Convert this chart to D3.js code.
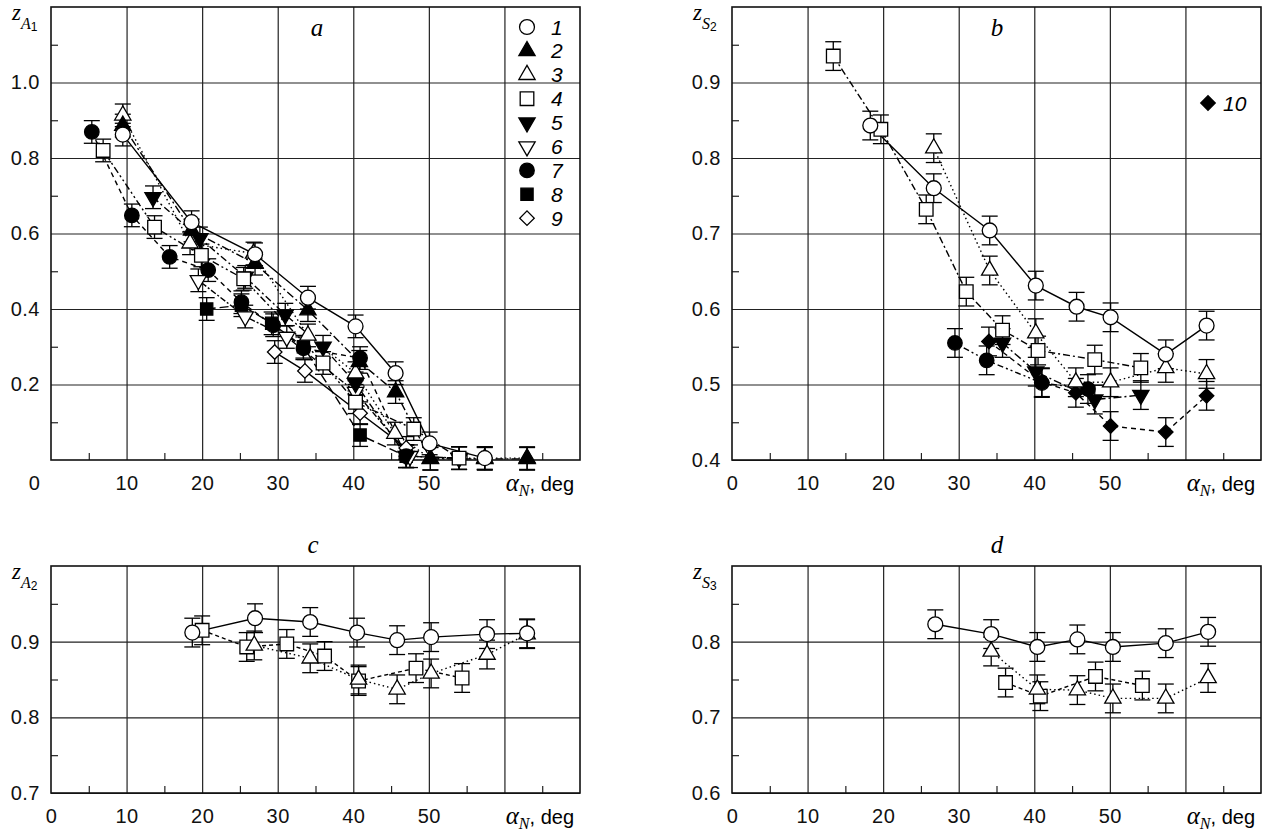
<!DOCTYPE html>
<html>
<head>
<meta charset="utf-8">
<script src="https://cdn.jsdelivr.net/npm/d3@7"></script>
<style>
body { margin: 0; background: #fff; }
.ticklab text { font-family: "Liberation Sans", Arial, sans-serif; font-size: 20px; letter-spacing: 0.5px; fill: #111; }
</style>
</head>
<body>
<svg id="fig" width="1270" height="839"></svg>
<script>
// x axis (same for all panels)
var xTicks = [0, 10, 20, 30, 40, 50];
var xGrid = [10, 20, 30, 40, 50, 60];
var xMinor = [5, 15, 25, 35, 45, 55, 65];

// panel a : z_A1
var aTicks = [0.2, 0.4, 0.6, 0.8, 1.0];
var aMinor = [0.1, 0.3, 0.5, 0.7, 0.9, 1.1];
var aErr = 0.03;
var a1 = [[9.5,0.862],[18.6,0.630],[27,0.545],[34,0.43],[40.3,0.354],[45.6,0.23],[50.1,0.044],[57.4,0.005]];
var a2 = [[9.5,0.886],[18.6,0.608],[27,0.52],[34,0.397],[40.8,0.26],[45.6,0.18],[50.2,0.003],[57.4,0.003],[63,0.003]];
var a3 = [[9.5,0.913],[18.4,0.574],[26.8,0.547],[34,0.33],[40.3,0.23],[45.5,0.07],[50.2,0.004],[57.4,0.005],[63,0.005]];
var a4 = [[6.9,0.82],[13.7,0.617],[19.9,0.542],[25.5,0.48],[36,0.257],[40.3,0.153],[48,0.082],[54,0.005]];
var a5 = [[13.5,0.696],[19.7,0.587],[25.7,0.485],[31,0.385],[36,0.30],[40.3,0.203],[47,0.01],[54,0.005]];
var a6 = [[19.5,0.476],[25.7,0.38],[31.2,0.326],[40.3,0.18],[47.5,0.01],[54,0.005]];
var a7 = [[5.4,0.869],[10.7,0.648],[15.7,0.538],[20.8,0.503],[25.2,0.418],[29.4,0.357],[33.4,0.296],[40.9,0.27],[47,0.01]];
var a8 = [[20.6,0.40],[25.2,0.41],[29.2,0.362],[33.4,0.30],[40.9,0.066],[47,0.01]];
var a9 = [[29.6,0.286],[33.6,0.236],[40.9,0.124],[47,0.032]];

// panel b : z_S2
var bTicks = [0.4, 0.5, 0.6, 0.7, 0.8, 0.9];
var bMinor = [0.45, 0.55, 0.65, 0.75, 0.85, 0.95];
var bErr = 0.019;
var b1 = [[18.3,0.843],[26.7,0.76],[34.1,0.704],[40.2,0.631],[45.6,0.603],[50.1,0.589],[57.4,0.54],[62.8,0.578]];
var b3 = [[26.7,0.813],[34.1,0.651],[40.2,0.568],[45.5,0.503],[50.1,0.503],[57.4,0.522],[62.8,0.514]];
var b4 = [[13.4,0.935],[19.7,0.838],[25.7,0.732],[31,0.623],[35.8,0.572],[40.5,0.545],[48,0.533],[54.1,0.522]];
var b5 = [[35.8,0.555],[40.2,0.517],[48,0.48],[54.1,0.486]];
var b7 = [[29.5,0.555],[33.7,0.532],[41,0.502],[47.1,0.494]];
var b10 = [[34,0.557],[41,0.503],[45.5,0.489],[50.1,0.445],[57.4,0.437],[62.8,0.485]];

// panel c : z_A2
var cTicks = [0.7, 0.8, 0.9];
var cMinor = [0.75, 0.85, 0.95];
var cErr = 0.019;
var c1 = [[18.7,0.912],[27,0.931],[34.3,0.926],[40.5,0.912],[45.8,0.902],[50.3,0.906],[57.7,0.91],[63,0.911]];
var c3 = [[26.9,0.895],[34.3,0.878],[40.7,0.85],[45.8,0.837],[50.3,0.858],[57.7,0.883],[63,0.91]];
var c4 = [[20,0.915],[25.9,0.893],[31.2,0.897],[36.2,0.881],[40.7,0.848],[48.3,0.865],[54.4,0.852]];

// panel d : z_S3
var dTicks = [0.6, 0.7, 0.8];
var dMinor = [0.65, 0.75, 0.85];
var dErr = 0.019;
var d1 = [[26.9,0.823],[34.3,0.81],[40.4,0.793],[45.7,0.803],[50.4,0.793],[57.4,0.798],[63,0.813]];
var d3s = [[34.3,0.787],[40.4,0.737],[45.7,0.736],[50.4,0.725],[57.4,0.725],[63,0.752]];
var d4 = [[36.2,0.746],[40.8,0.728],[48.1,0.754],[54.3,0.742]];

var legendA = ["1","2","3","4","5","6","7","8","9"];

// marker per series number
var markOf = {1:"circle",2:"triUpF",3:"triUp",4:"square",5:"triDownF",6:"triDown",7:"circleF",8:"squareF",9:"diamond",10:"diamondF"};

var svg = d3.select("#fig");
var W = 529;

function marker(sel, kind) {
  var type = d3.symbolCircle, size = 175, rot = 0;
  if (kind.indexOf("tri") == 0) { type = d3.symbolTriangle; size = 115; }
  if (kind.indexOf("triDown") == 0) rot = 180;
  if (kind.indexOf("square") == 0) { type = d3.symbolSquare; size = kind == "squareF" ? 150 : 185; }
  if (kind.indexOf("diamond") == 0) { type = d3.symbolSquare; size = 105; rot = 45; }
  if (kind == "circleF") size = 165;
  var filled = kind.charAt(kind.length - 1) == "F";
  sel.append("path")
    .attr("d", d3.symbol().type(type).size(size))
    .attr("transform", "rotate(" + rot + ")")
    .attr("fill", filled ? "#000" : "#fff")
    .attr("stroke", "#000")
    .attr("stroke-width", 1.3);
}

function panel(p) {
  var x = d3.scaleLinear().domain([0, 70]).range([p.left, p.left + W]);
  var y = d3.scaleLinear().domain(p.yDomain).range([p.bottom, p.top]);
  var H = p.bottom - p.top;
  var g = svg.append("g");

  // grid
  g.append("g").attr("transform", "translate(0," + p.bottom + ")")
    .call(d3.axisBottom(x).tickValues(xGrid).tickSize(-H).tickFormat(""))
    .call(function(s) { s.select(".domain").remove(); s.selectAll("line").attr("stroke", "#222").attr("stroke-width", 1.2); });
  g.append("g").attr("transform", "translate(" + p.left + ",0)")
    .call(d3.axisLeft(y).tickValues(p.yTicks).tickSize(-W).tickFormat(""))
    .call(function(s) { s.select(".domain").remove(); s.selectAll("line").attr("stroke", "#222").attr("stroke-width", 1.2); });
  // minor ticks
  g.append("g").attr("transform", "translate(0," + p.bottom + ")")
    .call(d3.axisBottom(x).tickValues(xMinor).tickSize(-7).tickFormat(""))
    .call(function(s) { s.select(".domain").remove(); s.selectAll("line").attr("stroke", "#222").attr("stroke-width", 1.2); });
  g.append("g").attr("transform", "translate(" + p.left + ",0)")
    .call(d3.axisLeft(y).tickValues(p.yMinor).tickSize(-7).tickFormat(""))
    .call(function(s) { s.select(".domain").remove(); s.selectAll("line").attr("stroke", "#222").attr("stroke-width", 1.2); });

  g.append("rect").attr("x", p.left).attr("y", p.top).attr("width", W).attr("height", H)
    .attr("fill", "none").attr("stroke", "#111").attr("stroke-width", 1.6);

  // tick labels
  var xl = g.append("g").attr("class", "ticklab").attr("transform", "translate(0," + p.bottom + ")")
    .call(d3.axisBottom(x).tickValues(xTicks).tickSize(0).tickPadding(16).tickFormat(d3.format("d")));
  xl.select(".domain").remove();
  xl.selectAll(".tick").filter(function(d) { return d == 0; }).select("text").attr("dx", p.zeroShift || 0);
  var yl = g.append("g").attr("class", "ticklab").attr("transform", "translate(" + p.left + ",0)")
    .call(d3.axisLeft(y).tickValues(p.yTicks).tickSize(0).tickPadding(11).tickFormat(d3.format(".1f")));
  yl.select(".domain").remove();

  // x axis title
  var xt = g.append("text").attr("x", p.left + W - 6).attr("y", p.bottom + 31).attr("text-anchor", "end");
  xt.append("tspan").attr("font-family", "Liberation Serif, serif").attr("font-style", "italic").attr("font-size", 25).text("α");
  xt.append("tspan").attr("font-family", "Liberation Serif, serif").attr("font-style", "italic").attr("font-size", 16).attr("dy", 5).text("N");
  xt.append("tspan").attr("font-family", "Liberation Sans, Arial, sans-serif").attr("font-size", 20).attr("dy", -5).text(", deg");

  // y axis title
  var yt = g.append("text").attr("x", p.left - 39).attr("y", p.top + 13);
  yt.append("tspan").attr("font-family", "Liberation Serif, serif").attr("font-style", "italic").attr("font-size", 23).text("z");
  yt.append("tspan").attr("font-family", "Liberation Serif, serif").attr("font-style", "italic").attr("font-size", 16).attr("dy", 9).text(p.sub);
  yt.append("tspan").attr("font-family", "Liberation Sans, Arial, sans-serif").attr("font-size", 12).attr("dy", 2).text(p.subNum);

  // panel letter
  g.append("text").attr("x", p.letterX).attr("y", p.letterY).attr("text-anchor", "middle")
    .attr("font-family", "Liberation Serif, serif").attr("font-style", "italic").attr("font-size", 25)
    .text(p.letter);

  var line = d3.line().x(function(d) { return x(d[0]); }).y(function(d) { return y(d[1]); });
  var plot = g.append("g");
  p.series.forEach(function(s) {
    plot.append("path").datum(s.data).attr("d", line)
      .attr("fill", "none").attr("stroke", "#000").attr("stroke-width", 1.4)
      .attr("stroke-dasharray", s.dash);
  });
  p.series.forEach(function(s) {
    var eb = plot.append("g").selectAll("g").data(s.data).enter().append("g");
    eb.append("line").attr("x1", function(d) { return x(d[0]); }).attr("x2", function(d) { return x(d[0]); })
      .attr("y1", function(d) { return y(d[1] - p.err); }).attr("y2", function(d) { return y(d[1] + p.err); });
    eb.append("line").attr("x1", function(d) { return x(d[0]) - 8; }).attr("x2", function(d) { return x(d[0]) + 8; })
      .attr("y1", function(d) { return y(d[1] + p.err); }).attr("y2", function(d) { return y(d[1] + p.err); });
    eb.append("line").attr("x1", function(d) { return x(d[0]) - 8; }).attr("x2", function(d) { return x(d[0]) + 8; })
      .attr("y1", function(d) { return y(d[1] - p.err); }).attr("y2", function(d) { return y(d[1] - p.err); });
    eb.selectAll("line").attr("stroke", "#000").attr("stroke-width", 1.3);
  });
  p.series.forEach(function(s) {
    plot.append("g").selectAll("g").data(s.data).enter().append("g")
      .attr("transform", function(d) { return "translate(" + x(d[0]) + "," + y(d[1]) + ")"; })
      .each(function() { marker(d3.select(this), markOf[s.id]); });
  });
  return g;
}

var ga = panel({
  left: 51, top: 7, bottom: 460, yDomain: [0, 1.2], yTicks: aTicks, yMinor: aMinor, err: aErr,
  sub: "A", subNum: "1", letter: "a", letterX: 317, letterY: 36, zeroShift: -17,
  series: [
    {id: 9, data: a9, dash: null},
    {id: 8, data: a8, dash: "9,4"},
    {id: 7, data: a7, dash: "5,4"},
    {id: 6, data: a6, dash: "2,2,6,2"},
    {id: 5, data: a5, dash: "7,3,2,3"},
    {id: 4, data: a4, dash: "7,3,2,3,2,3"},
    {id: 3, data: a3, dash: "1.5,3"},
    {id: 2, data: a2, dash: "8,3,2,3"},
    {id: 1, data: a1, dash: null}
  ]
});

// legend a
var leg = ga.append("g").selectAll("g").data(legendA).enter().append("g")
  .attr("transform", function(d, i) { return "translate(527," + (27 + i * 23.9) + ")"; });
leg.each(function(d) { marker(d3.select(this), markOf[+d]); });
leg.append("text").attr("x", 24).attr("dy", "0.36em")
  .attr("font-family", "Liberation Sans, Arial, sans-serif").attr("font-style", "italic").attr("font-size", 21)
  .text(function(d) { return d; });

var gb = panel({
  left: 732, top: 7, bottom: 460, yDomain: [0.4, 1.0], yTicks: bTicks, yMinor: bMinor, err: bErr,
  sub: "S", subNum: "2", letter: "b", letterX: 997, letterY: 36,
  series: [
    {id: 10, data: b10, dash: "5,4"},
    {id: 7, data: b7, dash: "2,3,2,3,6,3"},
    {id: 5, data: b5, dash: "8,3,2,3"},
    {id: 4, data: b4, dash: "7,3,2,3"},
    {id: 3, data: b3, dash: "1.5,3"},
    {id: 1, data: b1, dash: null}
  ]
});
var leg10 = gb.append("g").attr("transform", "translate(1208,103)");
marker(leg10, markOf[10]);
leg10.append("text").attr("x", 15).attr("dy", "0.36em")
  .attr("font-family", "Liberation Sans, Arial, sans-serif").attr("font-style", "italic").attr("font-size", 21)
  .text("10");

panel({
  left: 51, top: 566, bottom: 793, yDomain: [0.7, 1.0], yTicks: cTicks, yMinor: cMinor, err: cErr,
  sub: "A", subNum: "2", letter: "c", letterX: 313, letterY: 553,
  series: [
    {id: 4, data: c4, dash: "4,3"},
    {id: 3, data: c3, dash: "1.5,3"},
    {id: 1, data: c1, dash: null}
  ]
});

panel({
  left: 732, top: 566, bottom: 793, yDomain: [0.6, 0.9], yTicks: dTicks, yMinor: dMinor, err: dErr,
  sub: "S", subNum: "3", letter: "d", letterX: 997, letterY: 553,
  series: [
    {id: 4, data: d4, dash: "4,3"},
    {id: 3, data: d3s, dash: "1.5,3"},
    {id: 1, data: d1, dash: null}
  ]
});
</script>
</body>
</html>
